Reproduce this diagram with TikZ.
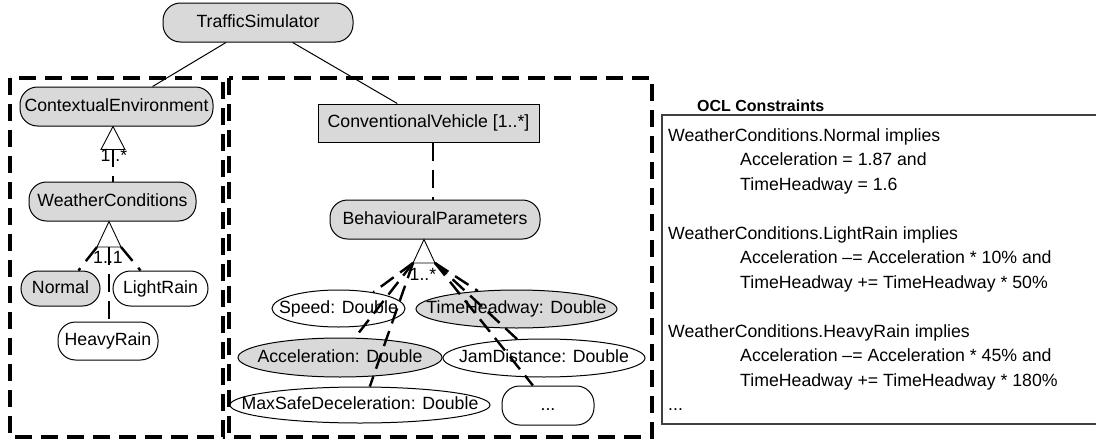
\documentclass[tikz,border=0pt]{standalone}
\usepackage{fontspec}
\setmainfont{Liberation Sans}
\usetikzlibrary{shapes.geometric,calc}
\definecolor{gry}{RGB}{217,217,217}
\newcommand\zw[1]{\makebox[0pt]{#1}}
\begin{document}
\begin{tikzpicture}[x=1pt,y=-1pt,
  txt/.style={font=\fontsize{17.7}{21}\selectfont, text height=12.7pt, text depth=3.7pt, inner sep=0pt},
  stad/.style={txt, draw=black, line width=1pt, rounded corners=17.5pt, minimum height=39pt},
  boxn/.style={txt, draw=black, line width=1pt, minimum height=38pt},
  ell/.style={txt, ellipse, draw=black, line width=1pt, minimum height=37pt},
  conn/.style={line width=2.4pt, dash pattern=on 18pt off 9pt},
  thinl/.style={line width=1pt},
  tri/.style={line width=0.9pt, fill=white},
  frame/.style={line width=3.3pt, dash pattern=on 17pt off 9pt},
  lab/.style={txt},
  ocl/.style={font=\fontsize{17.7}{21}\selectfont, inner sep=0pt, anchor=base west}
]
\useasboundingbox (0,0) rectangle (1096,442);
\fill[white] (0,0) rectangle (1096,442);

% frames
\draw[frame] (10,78) rectangle (223,437);
\draw[frame] (229,78) rectangle (652,437);

% nodes
\node[stad, fill=gry, minimum width=190pt] (ts) at (258,22.5) {TrafficSimulator};
\node[stad, fill=gry, minimum width=193pt] (ce) at (116.5,106.5) {ContextualEnvironment};
\node[stad, fill=gry, minimum width=167pt] (wc) at (112.5,201.5) {WeatherConditions};
\node[stad, fill=gry, minimum width=79pt, minimum height=35pt] (normal) at (60.5,288.5) {Normal};
\node[stad, fill=white, minimum width=95pt, minimum height=35pt] (lightrain) at (160.5,288.5) {LightRain};
\node[stad, fill=white, minimum width=100pt, minimum height=38pt] (heavyrain) at (108,341) {HeavyRain};
\node[boxn, fill=gry, minimum width=221pt] (cv) at (428.5,123) {ConventionalVehicle [1..*]};
\node[stad, fill=gry, minimum width=210pt] (bp) at (435,219.5) {BehaviouralParameters};
\node[ell, fill=white, minimum width=133pt] (speed) at (338.5,308.5) {\zw{Speed: Double}};
\node[ell, fill=gry, minimum width=201pt, minimum height=38pt] (th) at (516.5,309) {\zw{TimeHeadway: Double}};
\node[ell, fill=gry, minimum width=204pt, minimum height=39pt] (acc) at (340,357.5) {\zw{Acceleration: Double}};
\node[ell, fill=white, minimum width=202pt, minimum height=38pt] (jd) at (544,358) {\zw{JamDistance: Double}};
\node[ell, fill=white, minimum width=260pt, minimum height=36pt] (msd) at (360,405) {\zw{MaxSafeDeceleration: Double}};
\node[stad, fill=white, minimum width=92pt] (dots) at (548,405.5) {...};

% top connectors
\draw[thinl] (ts.212) -- (ce.29);
\draw[thinl] (ts.330) -- (cv.148);

% CE -> WC
\coordinate (ceB) at (113,149);
\draw[tri] (ce.south -| ceB) -- ++(-12,23) -- ++(24,0) -- cycle;
\draw[conn] (ceB) -- (wc.north -| ceB);
\node[lab] (lab1) at (114,157) {1..*};

% WC -> children
\coordinate (wcB) at (109,247);
\coordinate (wcL) at (97,247);
\coordinate (wcR) at (121,247);
\draw[tri] (wc.south -| wcB) -- (wcL) -- (wcR) -- cycle;
\draw[conn] (wcL) -- (normal.45);
\draw[conn] (wcR) -- (lightrain.138);
\draw[conn] (wcB) -- (heavyrain.north -| wcB);
\node[lab] (lab2) at (108,259) {1..1};

% CV -> BP
\draw[conn] ($(cv.south)+(4.5,0)$) -- ($(bp.north)+(-2,0)$);

% BP -> attributes
\coordinate (bpB) at (424,263);
\coordinate (bpL) at (413,263);
\coordinate (bpR) at (435,263);
\draw[tri] (bp.south -| bpB) -- (bpL) -- (bpR) -- cycle;
\draw[conn, dash pattern=on 16pt off 8pt] (bpL) -- (speed.25);
\draw[conn, dash pattern=on 16pt off 8pt] (bpL) -- (acc.53);
\draw[conn, dash pattern=on 16pt off 8pt] (bpL) -- (msd.62);
\draw[conn, dash pattern=on 16pt off 8pt] (bpR) -- (th.155);
\draw[conn, dash pattern=on 16pt off 8pt] (bpR) -- (jd.145);
\draw[conn, dash pattern=on 16pt off 8pt] (bpR) -- (dots.127);
\node[lab] (lab3) at (423,276) {1..*};

% OCL constraints
\node[anchor=base west, inner sep=0pt, font=\bfseries\fontsize{16}{19}\selectfont] (ocltitle) at (697,111) {OCL Constraints};
\draw[line width=1.2pt, draw=black!75] (1100,115) -- (662,115) -- (662,424) -- (1100,424);
\node[ocl] (o1) at (668,141.5) {WeatherConditions.Normal implies};
\node[ocl] (o2) at (740,165.5) {Acceleration = 1.87 and};
\node[ocl] (o3) at (740,190.5) {TimeHeadway = 1.6};
\node[ocl] (o4) at (668,239.5) {WeatherConditions.LightRain implies};
\node[ocl] (o5) at (740,263.5) {Acceleration –= Acceleration * 10\% and};
\node[ocl] (o6) at (740,288.5) {TimeHeadway += TimeHeadway * 50\%};
\node[ocl] (o7) at (668,337.5) {WeatherConditions.HeavyRain implies};
\node[ocl] (o8) at (740,361.5) {Acceleration –= Acceleration * 45\% and};
\node[ocl] (o9) at (740,386.5) {TimeHeadway += TimeHeadway * 180\%};
\node[ocl] (o10) at (668,410) {...};
\end{tikzpicture}
\end{document}
